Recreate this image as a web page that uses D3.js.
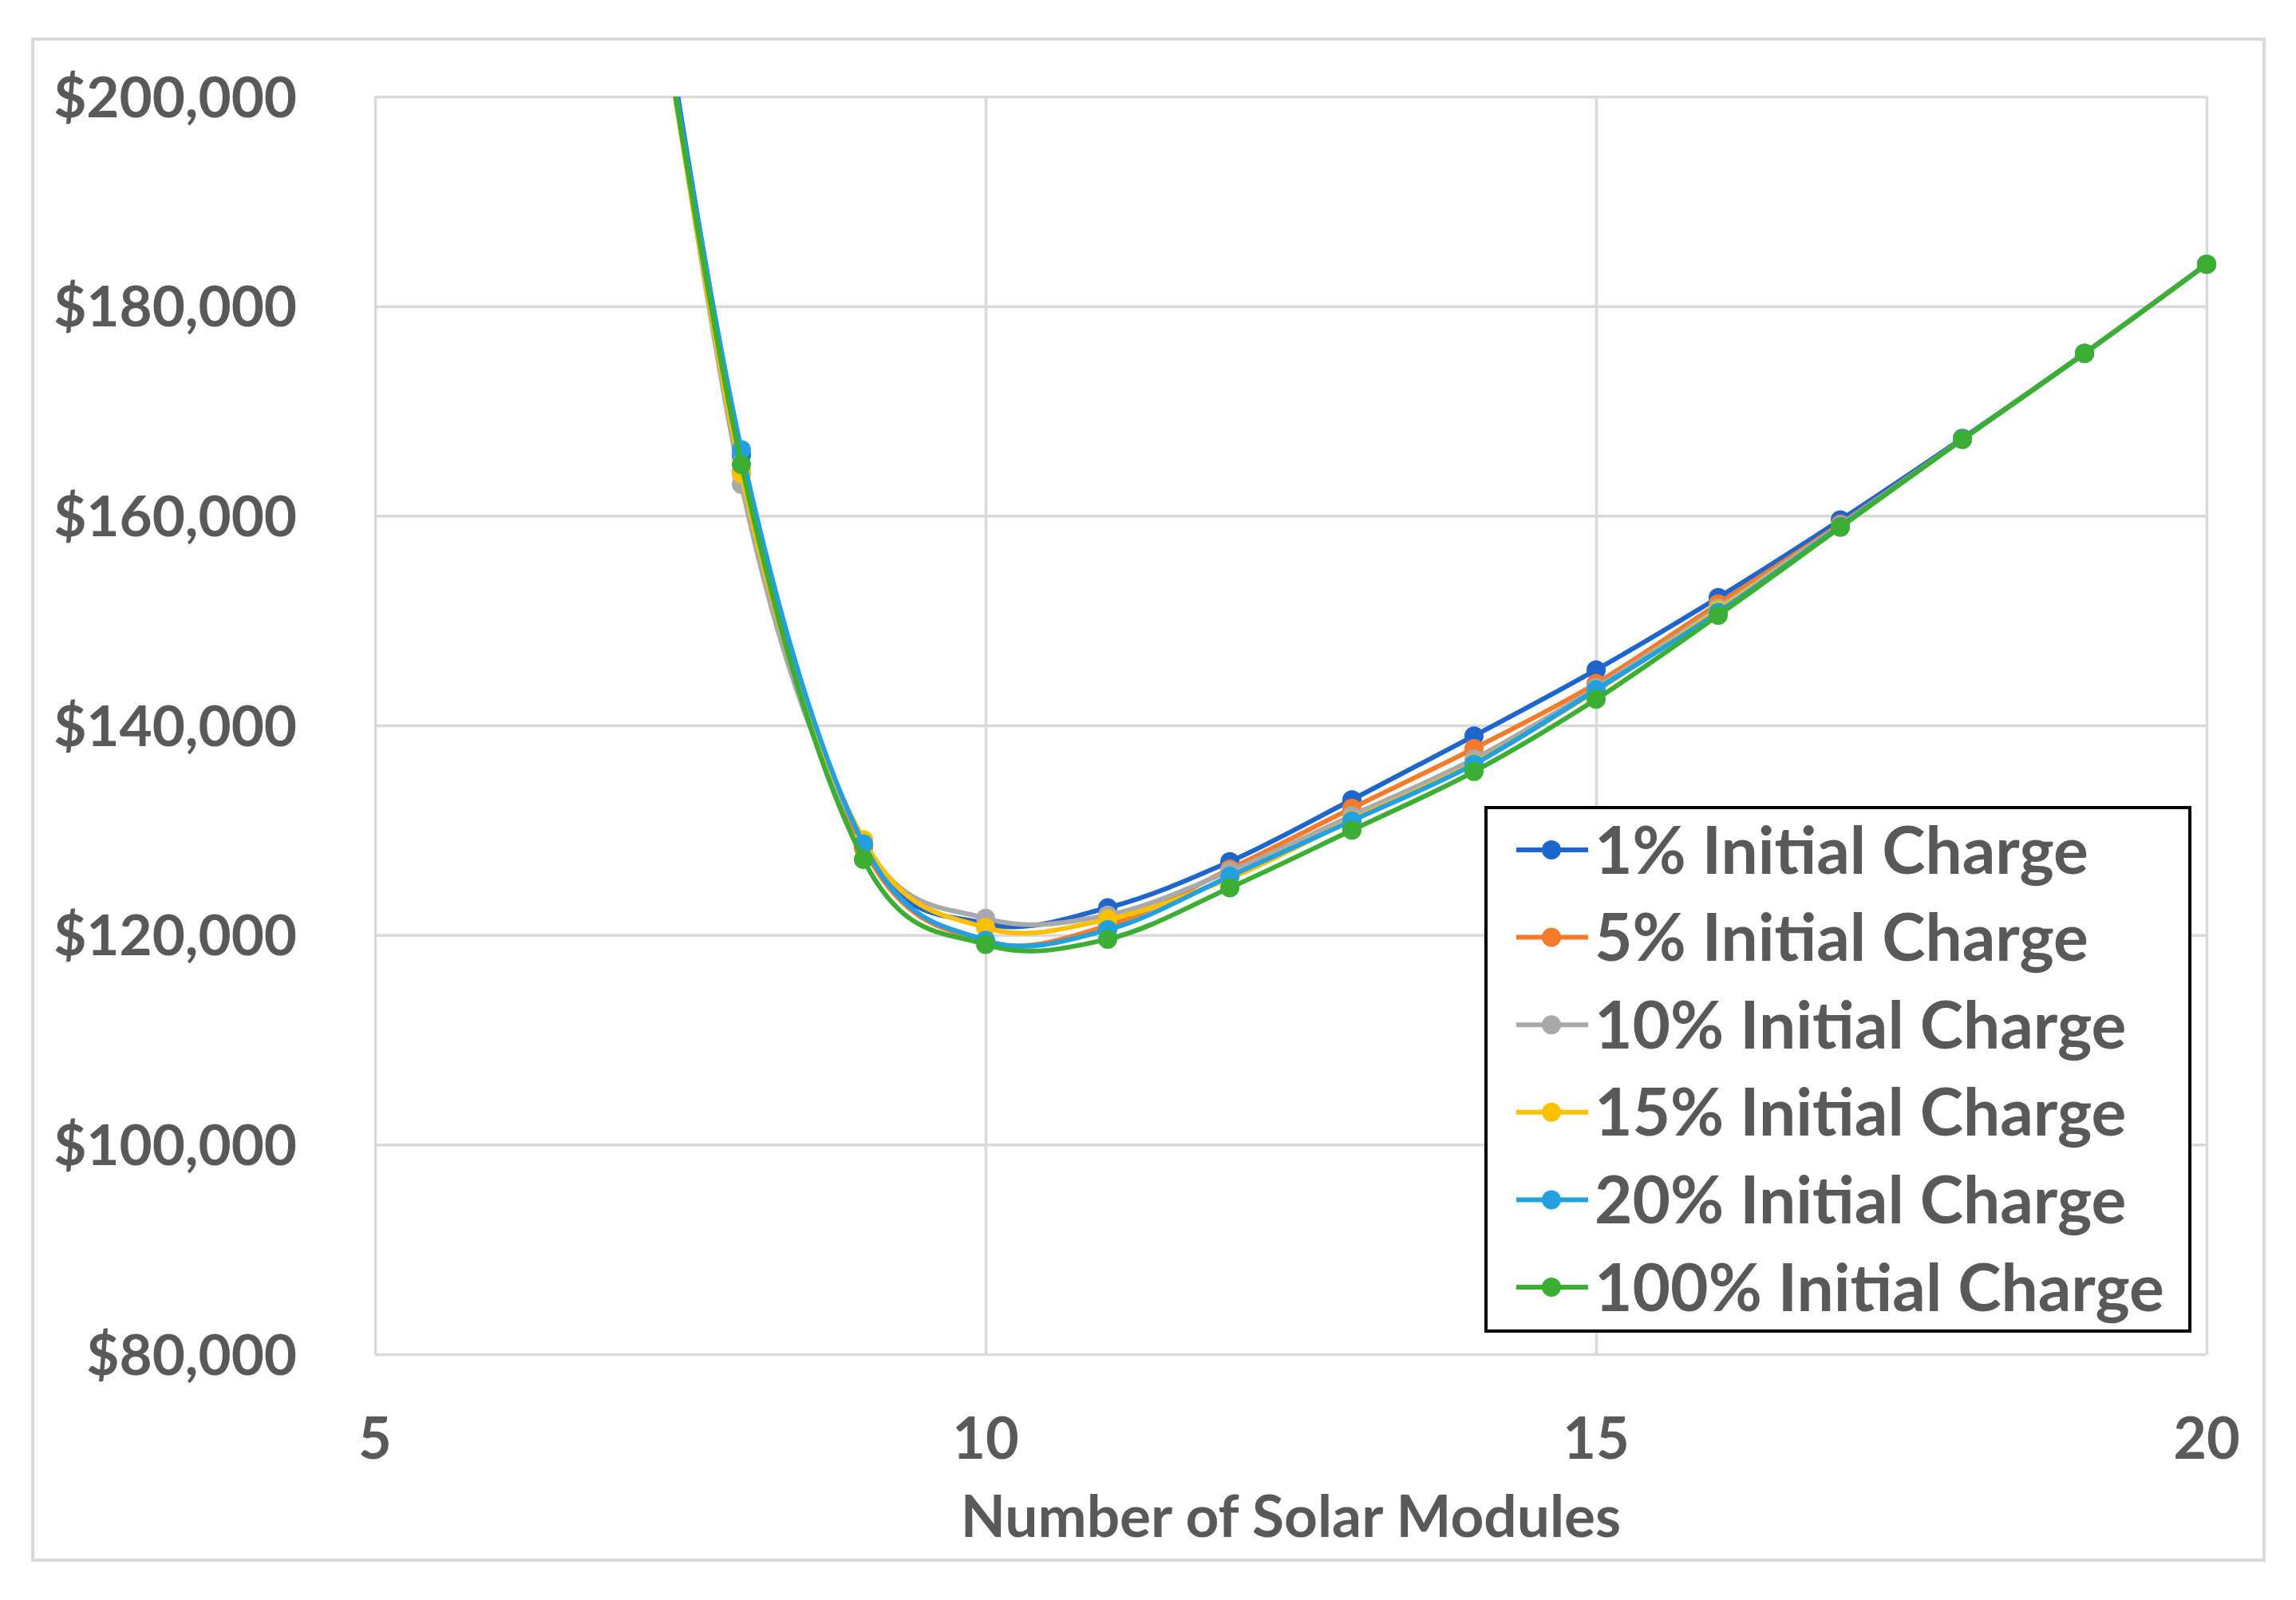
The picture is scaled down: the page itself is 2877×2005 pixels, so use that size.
<!DOCTYPE html>
<html>
<head>
<meta charset="utf-8">
<script src="https://cdn.jsdelivr.net/npm/d3@7"></script>
<style>
  body { margin: 0; background: #fff; }
  text { font-family: Lato, "Open Sans", sans-serif; font-weight: bold; fill: #595959; }
</style>
</head>
<body>
<svg id="canvas" width="2877" height="2005"></svg>
<script>
// ----------------------------- data -----------------------------
let modules = [7, 8, 9, 10, 11, 12, 13, 14, 15, 16, 17, 18, 19, 20];

let charge1   = [236000, 165800, 128500, 121100, 122600, 127000, 132900, 139000, 145300, 152200, 159600, 167400, 175500, 184000];
let charge5   = [235000, 164200, 128300, 119400, 120900, 126300, 132100, 137800, 144000, 151600, 159200, 167300, 175500, 184000];
let charge10  = [237000, 163000, 128900, 121600, 121900, 126100, 131400, 136800, 143600, 151200, 159100, 167300, 175500, 184000];
let charge15  = [235000, 164000, 129100, 120700, 121500, 125400, 131000, 136400, 143300, 151000, 159000, 167300, 175500, 184000];
let charge20  = [234000, 166300, 128700, 119500, 120500, 125600, 130900, 136300, 143400, 150800, 159000, 167300, 175500, 184000];
let charge100 = [234000, 164900, 127200, 119100, 119600, 124500, 130000, 135600, 142500, 150500, 158900, 167300, 175500, 184000];

let seriesNames = ['1% Initial Charge', '5% Initial Charge', '10% Initial Charge',
                   '15% Initial Charge', '20% Initial Charge', '100% Initial Charge'];
let seriesValues = [charge1, charge5, charge10, charge15, charge20, charge100];
let seriesColors = ['#1f66cc', '#f57a2a', '#a9a9a9', '#ffc000', '#22a0e0', '#3cae34'];

let xTicks = [5, 10, 15, 20];
let yTicks = [80000, 100000, 120000, 140000, 160000, 180000, 200000];

// ----------------------------- layout -----------------------------
let canvas = d3.select('#canvas');
let plot = { left: 470, right: 2765, top: 121, bottom: 1697 };

let x = d3.scaleLinear().domain([5, 20]).range([plot.left, plot.right]);
let y = d3.scaleLinear().domain([80000, 200000]).range([plot.bottom, plot.top]);

// outer chart border
canvas.append('rect')
      .attr('x', 41).attr('y', 49)
      .attr('width', 2796).attr('height', 1906)
      .attr('fill', 'none')
      .attr('stroke', '#d9d9d9')
      .attr('stroke-width', 4);

// gridlines (both directions) through axes with long ticks
canvas.append('g')
      .attr('transform', `translate(${plot.left},0)`)
      .call(d3.axisLeft(y).tickValues(yTicks).tickSize(-(plot.right - plot.left)).tickFormat(''))
      .call(g => g.select('.domain').remove())
      .selectAll('line')
      .attr('stroke', '#d9d9d9')
      .attr('stroke-width', 3.5);

canvas.append('g')
      .attr('transform', `translate(0,${plot.bottom})`)
      .call(d3.axisBottom(x).tickValues(xTicks).tickSize(-(plot.bottom - plot.top)).tickFormat(''))
      .call(g => g.select('.domain').remove())
      .selectAll('line')
      .attr('stroke', '#d9d9d9')
      .attr('stroke-width', 3.5);

// tick labels
canvas.append('g')
      .selectAll('text')
      .data(yTicks)
      .enter()
      .append('text')
      .attr('x', 372)
      .attr('y', d => y(d))
      .attr('dy', '0.36em')
      .attr('text-anchor', 'end')
      .style('font-size', '71px')
      .text(d => d3.format('$,')(d));

canvas.append('g')
      .selectAll('text')
      .data(xTicks)
      .enter()
      .append('text')
      .attr('x', d => x(d))
      .attr('y', 1828)
      .attr('text-anchor', 'middle')
      .style('font-size', '72px')
      .text(d => d);

canvas.append('text')
      .attr('x', (plot.left + plot.right) / 2)
      .attr('y', 1926)
      .attr('text-anchor', 'middle')
      .style('font-size', '73px')
      .text('Number of Solar Modules');

// ----------------------------- series -----------------------------
// the curve runs off the top near 7.5 modules, so clip at the plot edge
canvas.append('clipPath')
      .attr('id', 'plotClip')
      .append('rect')
      .attr('x', plot.left).attr('y', plot.top)
      .attr('width', plot.right - plot.left + 16)
      .attr('height', plot.bottom - plot.top);

let line = d3.line()
             .x(d => x(d[0]))
             .y(d => y(d[1]))
             .curve(d3.curveCardinal.tension(0));

let series = canvas.append('g')
                   .attr('clip-path', 'url(#plotClip)')
                   .selectAll('g')
                   .data(seriesValues)
                   .enter()
                   .append('g');

series.append('path')
      .attr('d', vals => line(vals.map((v, i) => [modules[i], v])))
      .attr('fill', 'none')
      .attr('stroke', (vals, i) => seriesColors[i])
      .attr('stroke-width', 6);

series.each(function (vals, i) {
  d3.select(this).selectAll('circle')
    .data(vals.map((v, j) => [modules[j], v]).filter(d => d[1] <= 200000))
    .enter()
    .append('circle')
    .attr('cx', d => x(d[0]))
    .attr('cy', d => y(d[1]))
    .attr('r', 12)
    .attr('fill', seriesColors[i]);
});

// ----------------------------- legend -----------------------------
let legend = canvas.append('g');
legend.append('rect')
      .attr('x', 1862).attr('y', 1012)
      .attr('width', 882).attr('height', 656)
      .attr('fill', '#fff')
      .attr('stroke', '#000')
      .attr('stroke-width', 4);

let rows = legend.selectAll('g.row')
                 .data(seriesNames)
                 .enter()
                 .append('g')
                 .attr('class', 'row')
                 .attr('transform', (d, i) => `translate(0,${1065 + i * 109.6})`);

rows.append('line')
    .attr('x1', 1900).attr('x2', 1990)
    .attr('stroke', (d, i) => seriesColors[i])
    .attr('stroke-width', 6);

rows.append('circle')
    .attr('cx', 1944)
    .attr('r', 12)
    .attr('fill', (d, i) => seriesColors[i]);

rows.append('text')
    .attr('x', 1998)
    .attr('dy', '0.36em')
    .style('font-size', '82px')
    .text(d => d);
</script>
</body>
</html>
